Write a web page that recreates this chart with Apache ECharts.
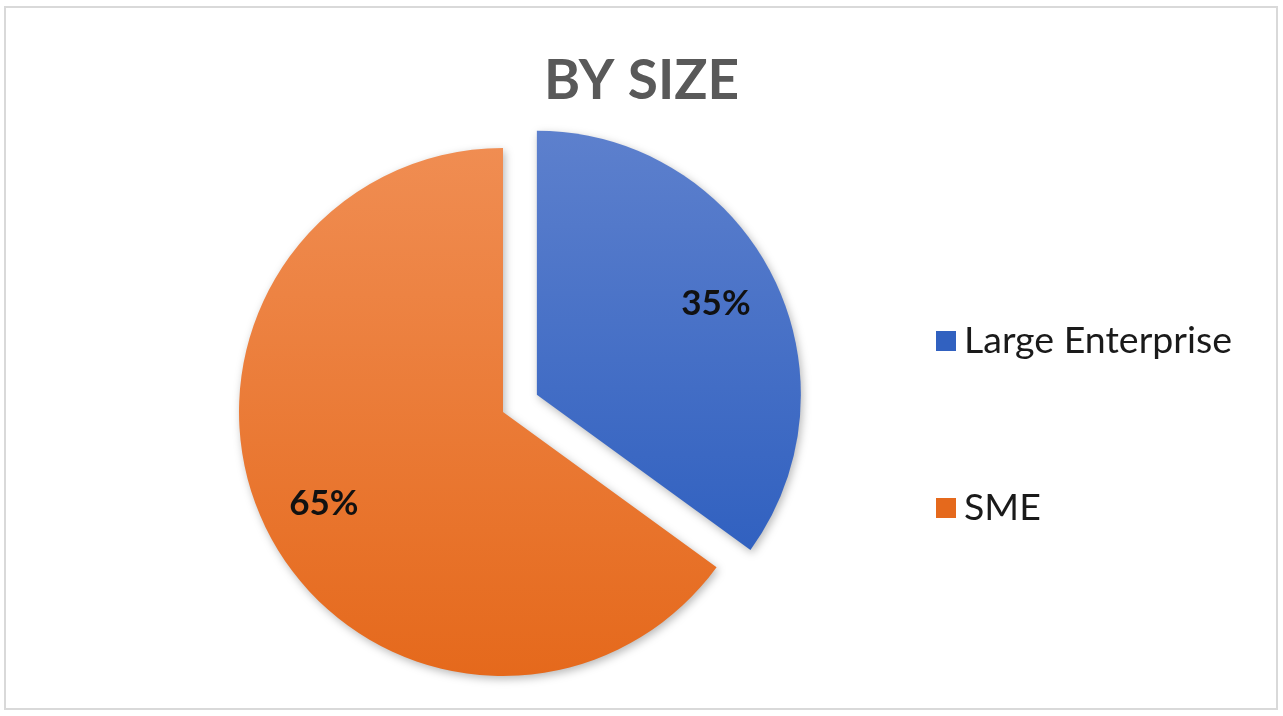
<!DOCTYPE html>
<html>
<head>
<meta charset="utf-8">
<script src="https://cdn.jsdelivr.net/npm/echarts@6/dist/echarts.min.js"></script>
<style>
html,body{margin:0;padding:0;background:#fff;}
#chart{position:absolute;left:0;top:0;width:1283px;height:716px;}
#frame{position:absolute;left:4px;top:6px;width:1274px;height:704px;border:2px solid #d9d9d9;box-sizing:border-box;pointer-events:none;}
</style>
</head>
<body>
<div id="chart"></div>
<div id="frame"></div>
<script>
const titleText = 'BY SIZE';
const categories = ['Large Enterprise', 'SME'];
const values = [35, 65];
const labels = ['35%', '65%'];
const explodedCategory = 'Large Enterprise';

const colorStops = {
  'Large Enterprise': ['#5d80cd', '#3161c0'],
  'SME': ['#f08d52', '#e5691c']
};

function grad(name) {
  const c = colorStops[name];
  return new echarts.graphic.LinearGradient(0, 0, 0, 1, [
    { offset: 0, color: c[0] },
    { offset: 1, color: c[1] }
  ]);
}

const pieData = categories.map((name, i) => ({
  name: name,
  value: values[i],
  selected: name === explodedCategory,
  itemStyle: { color: grad(name) }
}));

const labelData = categories.map((name, i) => ({
  name: name,
  value: values[i],
  selected: name === explodedCategory,
  label: { formatter: labels[i] }
}));

const legendTops = [316, 483];
const legends = categories.map((n, i) => ({
  orient: 'vertical',
  left: 931,
  top: legendTops[i],
  itemWidth: 20,
  itemHeight: 20,
  icon: 'rect',
  selectedMode: false,
  data: [{ name: n, itemStyle: { color: colorStops[n][1] } }],
  textStyle: {
    fontFamily: 'Lato',
    fontSize: 37.5,
    color: '#1a1a1a',
    lineHeight: 40,
    padding: [0, 0, 0, 3]
  }
}));

const chart = echarts.init(document.getElementById('chart'));
chart.setOption({
  animation: false,
  backgroundColor: '#ffffff',
  title: {
    text: titleText,
    left: 'center',
    top: 49,
    textStyle: {
      fontFamily: 'Lato',
      fontWeight: 'bold',
      fontSize: 55,
      color: '#595959'
    }
  },
  legend: legends,
  series: [
    {
      type: 'pie',
      center: [503, 412],
      radius: 264,
      startAngle: 90,
      clockwise: true,
      selectedMode: 'multiple',
      selectedOffset: 38,
      silent: true,
      label: { show: false },
      labelLine: { show: false },
      itemStyle: {
        shadowBlur: 8,
        shadowOffsetX: 2,
        shadowOffsetY: 3,
        shadowColor: 'rgba(0,0,0,0.28)'
      },
      emphasis: { disabled: true },
      data: pieData
    },
    {
      type: 'pie',
      center: [503, 412],
      radius: [132, 264],
      startAngle: 90,
      clockwise: true,
      selectedMode: 'multiple',
      selectedOffset: 38,
      silent: true,
      legendHoverLink: false,
      itemStyle: { color: 'rgba(0,0,0,0)' },
      label: {
        show: true,
        position: 'inside',
        fontFamily: 'Lato',
        fontWeight: 'bold',
        fontSize: 35,
        color: '#111111'
      },
      labelLine: { show: false },
      emphasis: { disabled: true },
      data: labelData
    }
  ]
});
</script>
</body>
</html>
